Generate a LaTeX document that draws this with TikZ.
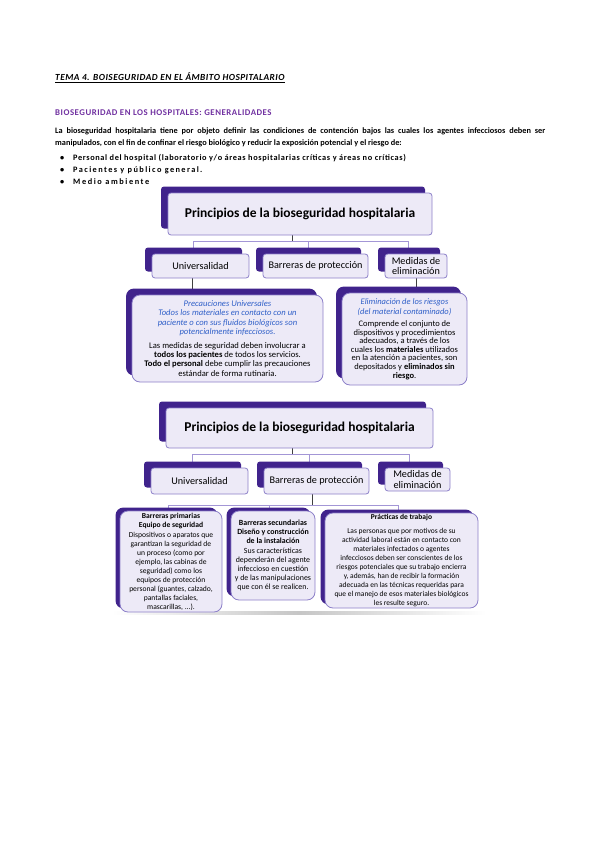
\documentclass[tikz,border=0pt]{standalone}
\usepackage{fontspec}
\setmainfont{Carlito}
\usetikzlibrary{shadows,calc,backgrounds}
\definecolor{shad}{HTML}{40238C}
\definecolor{lav}{HTML}{EDEAF7}
\definecolor{bord}{HTML}{8D80C9}
\definecolor{linec}{HTML}{A396D6}
\definecolor{blu}{HTML}{2F5FC8}
\definecolor{purp}{HTML}{7030A0}
\newcommand{\bl}[1]{{\color{blu}\itshape #1}}
\tikzset{
  front/.style={fill=lav, draw=bord, line width=0.8pt, rounded corners=3pt, inner sep=1pt, align=center},
  topbox/.style={front, drop shadow={shadow xshift=-7pt, shadow yshift=6.5pt, fill=shad, opacity=1}},
  bigbox/.style={front, rounded corners=8pt, drop shadow={shadow xshift=-6pt, shadow yshift=6.5pt, fill=shad, opacity=1}},
  lowbox/.style={front, rounded corners=8pt, drop shadow={shadow xshift=-4.5pt, shadow yshift=3.5pt, fill=shad, opacity=1}},
  titlefont/.style={font=\bfseries\fontsize{13.5}{15}\selectfont},
  labelfont/.style={font=\fontsize{10.2}{11}\selectfont},
  link/.style={draw=linec, line width=0.9pt},
  stem/.style={draw=black!75, line width=0.8pt},
  txt/.style={anchor=base west, inner sep=0pt},
  bodyfont/.style={font=\bfseries\fontsize{8.3}{11}\selectfont},
}
\begin{document}
\begin{tikzpicture}[x=1pt,y=-1pt]
\useasboundingbox (0,0) rectangle (599,848);

% ---------- header text ----------
\node[txt, font=\bfseries\itshape\fontsize{9.3}{11}\selectfont\addfontfeature{LetterSpace=5}] (h0) at (55,81) {\underline{TEMA 4. BOISEGURIDAD EN EL ÁMBITO HOSPITALARIO}};
\node[txt, font=\bfseries\fontsize{8.8}{11}\selectfont\addfontfeature{LetterSpace=6}, text=purp] (h1) at (55,116) {BIOSEGURIDAD EN LOS HOSPITALES: GENERALIDADES};
\node[txt, bodyfont] (p1l) at (55,133) {\makebox[490pt][s]{La bioseguridad hospitalaria tiene por objeto definir las condiciones de contención bajos las cuales los agentes infecciosos deben ser}};
\node[txt, bodyfont] (p2l) at (55,145) {manipulados, con el fin de confinar el riesgo biológico y reducir la exposición potencial y el riesgo de:};
\node[txt, bodyfont] (bu1) at (60,160) {\textbullet};
\node[txt, bodyfont] (bu2) at (60,172) {\textbullet};
\node[txt, bodyfont] (bu3) at (60,184) {\textbullet};
\node[txt, bodyfont] (bt1) at (73,160) {\addfontfeature{LetterSpace=7.5}Personal del hospital (laboratorio y/o áreas hospitalarias críticas y áreas no críticas)};
\node[txt, bodyfont] (bt2) at (73,172) {\addfontfeature{LetterSpace=17}Pacientes y público general.};
\node[txt, bodyfont] (bt3) at (73,184) {\addfontfeature{LetterSpace=19}Medio ambiente};

% ---------- diagram 1 ----------
\node[topbox, titlefont, minimum width=264pt, minimum height=42pt] (t1) at (300,214) {Principios de la bioseguridad hospitalaria};
\node[topbox, labelfont, minimum width=97pt, minimum height=24pt] (u1) at (200.5,266) {Universalidad};
\node[topbox, labelfont, minimum width=105pt, minimum height=24pt] (r1) at (315.5,266) {Barreras de protección};
\node[topbox, labelfont, minimum width=62pt, minimum height=24pt, font=\fontsize{10.2}{10.5}\selectfont] (m1) at (416,266) {Medidas de\\ eliminación};
\node[bigbox, minimum width=191pt, minimum height=87pt, font=\fontsize{8.6}{9.2}\selectfont] (b1) at (227.5,338.5) {%
\bl{Precauciones Universales}\\ \bl{Todos los materiales en contacto con un}\\ \bl{paciente o con sus fluidos biológicos son}\\ \bl{potencialmente infecciosos.}\\[5pt]
Las medidas de seguridad deben involucrar a\\ \textbf{todos los pacientes} de todos los servicios.\\ \textbf{Todo el personal} debe cumplir las precauciones\\ estándar de forma rutinaria.};
\node[bigbox, minimum width=125pt, minimum height=92pt, font=\fontsize{8.5}{8.6}\selectfont] (b2) at (404.5,339) {%
\bl{Eliminación de los riesgos}\\[1.4pt] \bl{(del material contaminado)}\\[3.4pt]
Comprende el conjunto de\\ dispositivos y procedimientos\\ adecuados, a través de los\\ cuales los \textbf{materiales} utilizados\\ en la atención a pacientes, son\\ depositados y \textbf{eliminados sin}\\ \textbf{riesgo}.};

% ---------- diagram 2 ----------
\node[topbox, titlefont, minimum width=267pt, minimum height=40pt] (t2) at (299.5,428) {Principios de la bioseguridad hospitalaria};
\node[topbox, labelfont, minimum width=97pt, minimum height=26pt] (u2) at (199.5,481) {Universalidad};
\node[topbox, labelfont, minimum width=105pt, minimum height=26pt] (r2) at (316.5,481) {Barreras de protección};
\node[topbox, labelfont, minimum width=65pt, minimum height=23pt, font=\fontsize{10.2}{10.5}\selectfont] (m2) at (417.5,479.5) {Medidas de\\ eliminación};
\node[lowbox, minimum width=102pt, minimum height=101pt, font=\fontsize{7.6}{9}\selectfont] (c1) at (171,561.5) {%
\textbf{Barreras primarias}\\ \textbf{Equipo de seguridad}\\[1pt] Dispositivos o aparatos que\\ garantizan la seguridad de\\ un proceso (como por\\ ejemplo, las cabinas de\\ seguridad) como los\\ equipos de protección\\ personal (guantes, calzado,\\ pantallas faciales,\\ mascarillas, ...).};
\node[lowbox, minimum width=84pt, minimum height=89pt, font=\fontsize{7.9}{9}\selectfont] (c2) at (273,555.5) {%
\textbf{Barreras secundarias}\\ \textbf{Diseño y construcción}\\ \textbf{de la instalación}\\[1pt] Sus características\\ dependerán del agente\\ infeccioso en cuestión\\ y de las manipulaciones\\ que con él se realicen.};
\node[lowbox, minimum width=153pt, minimum height=95pt, font=\fontsize{7.5}{9}\selectfont] (c3) at (401.5,560.5) {%
\textbf{Prácticas de trabajo}\\[5pt] Las personas que por motivos de su\\ actividad laboral están en contacto con\\ materiales infectados o agentes\\ infecciosos deben ser conscientes de los\\ riesgos potenciales que su trabajo encierra\\ y, además, han de recibir la formación\\ adecuada en las técnicas requeridas para\\ que el manejo de esos materiales biológicos\\ les resulte seguro.};

% ---------- connectors ----------
\begin{scope}[on background layer]
  \shade[left color=white, right color=white, middle color=gray!45] (112,611.5) rectangle (486,614.5);
  % diagram 1
  \coordinate (j1) at (292,241);
  \coordinate (u1t) at ([xshift=-7.5pt]u1.north);
  \coordinate (r1t) at ([xshift=-7.5pt]r1.north);
  \coordinate (m1t) at ([xshift=-8pt]m1.north);
  \draw[stem] (t1.south -| j1) -- (j1);
  \draw[link] (u1t) -- (u1t |- j1) -- (m1t |- j1) -- (m1t);
  \draw[link] (r1t) -- (r1t |- j1);
  \coordinate (u1b) at ([xshift=-8pt]u1.south);
  \draw[stem] (u1b) -- (u1b |- b1.north);
  \draw[stem] (m1.south) -- (m1.south |- b2.north);
  % diagram 2
  \coordinate (j2) at (292,454);
  \coordinate (u2t) at ([xshift=-7.5pt]u2.north);
  \coordinate (r2t) at ([xshift=-7.5pt]r2.north);
  \coordinate (m2t) at ([xshift=-8pt]m2.north);
  \draw[stem] (t2.south -| j2) -- (j2);
  \draw[link] (u2t) -- (u2t |- j2) -- (m2t |- j2) -- (m2t);
  \draw[link] (r2t) -- (r2t |- j2);
  \coordinate (r2b) at ([xshift=-4pt]r2.south);
  \coordinate (j3) at (312.5,505);
  \coordinate (c1t) at ([xshift=-3pt]c1.north);
  \coordinate (c2t) at ([xshift=-3.5pt]c2.north);
  \coordinate (c3t) at ([xshift=-3pt]c3.north);
  \draw[stem] (r2b) -- (r2b |- j3);
  \draw[link] (c1t) -- (c1t |- j3) -- (c3t |- j3) -- (c3t);
  \draw[link] (c2t) -- (c2t |- j3);
\end{scope}
\end{tikzpicture}
\end{document}
